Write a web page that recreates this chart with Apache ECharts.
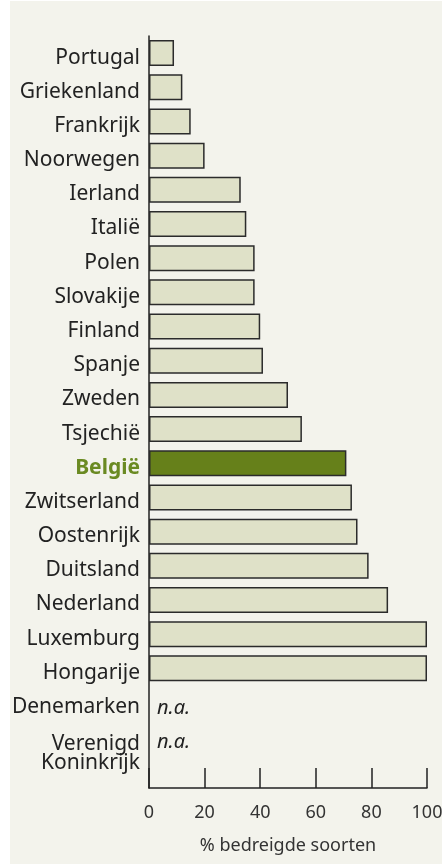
<!DOCTYPE html>
<html>
<head>
<meta charset="utf-8">
<script src="https://cdn.jsdelivr.net/npm/echarts@6/dist/echarts.min.js"></script>
<style>
  html, body { margin: 0; padding: 0; background: #ffffff; }
  #chart { position: absolute; left: 10px; top: 1px; width: 432px; height: 863px; }
</style>
</head>
<body>
<div id="chart"></div>
<script>
// landen, van boven naar beneden; laatste rij is leeg (ruimte voor de ticks)
const categories = ['Portugal', 'Griekenland', 'Frankrijk', 'Noorwegen', 'Ierland', 'Italië', 'Polen',
  'Slovakije', 'Finland', 'Spanje', 'Zweden', 'Tsjechië', 'België', 'Zwitserland', 'Oostenrijk',
  'Duitsland', 'Nederland', 'Luxemburg', 'Hongarije', 'Denemarken', 'Verenigd\nKoninkrijk', '']
// % bedreigde soorten, null = n.a.
const values = [9, 12, 15, 20, 33, 35, 38, 38, 40, 41, 50, 55, 71, 73, 75, 79, 86, 100, 100, null, null, null]
const xTicks = [0, 20, 40, 60, 80, 100]
const highlight = 'België'
const naText = 'n.a.'

const font = 'Noto Sans'
const barColor = '#dfe1c8'
const hiColor = '#66801a'

const barData = categories.map((c, i) => {
  if (values[i] === null) {
    if (c === '') return null
    // n.a. label op de nul-lijn
    return {
      value: 0,
      itemStyle: { borderWidth: 0, color: 'transparent' },
      label: {
        show: true, position: 'right', distance: 8, offset: [0, 6],
        formatter: naText, fontStyle: 'italic', fontSize: 20, color: '#222', fontFamily: font
      }
    }
  }
  return {
    value: values[i],
    itemStyle: { color: c === highlight ? hiColor : barColor }
  }
})

const myChart = echarts.init(document.getElementById('chart'))
myChart.setOption({
  backgroundColor: '#f3f3ec',
  animation: false,
  grid: { left: 139, right: 15, top: 35, bottom: 76, containLabel: false, outerBoundsMode: 'none' },
  xAxis: {
    type: 'value',
    min: 0,
    max: 100,
    interval: 20,
    axisLine: { show: true, lineStyle: { color: '#222', width: 1.5 } },
    axisTick: { show: true, inside: true, length: 20, lineStyle: { color: '#222', width: 1.5 } },
    splitLine: { show: false },
    axisLabel: {
      margin: 16, fontSize: 18, color: '#333', fontFamily: font,
      formatter: v => xTicks.includes(v) ? String(v) : ''
    },
    name: '% bedreigde soorten',
    nameLocation: 'middle',
    nameGap: 49,
    nameTextStyle: { fontSize: 18, color: '#333', fontFamily: font }
  },
  yAxis: {
    type: 'category',
    inverse: true,
    data: categories,
    axisLine: { show: true, lineStyle: { color: '#222', width: 1.5 } },
    axisTick: { show: false },
    axisLabel: {
      margin: 9, fontSize: 21, color: '#222', fontFamily: font, padding: [9, 0, 0, 0],
      formatter: v => {
        if (v === highlight) return '{b|' + v + '}'
        if (v.indexOf('\n') >= 0) return '{vk|' + v.split('\n').join('}\n{vk|') + '}'
        return v
      },
      rich: {
        b: { fontWeight: 'bold', color: '#6a8a22', fontSize: 21, fontFamily: font },
        vk: { fontSize: 21, color: '#222', fontFamily: font, lineHeight: 19, padding: [24, 0, 0, 0] }
      }
    }
  },
  series: [{
    type: 'bar',
    data: barData,
    barCategoryGap: '24%',
    itemStyle: { borderColor: '#2b2b2b', borderWidth: 1.5 }
  }]
})
</script>
</body>
</html>
